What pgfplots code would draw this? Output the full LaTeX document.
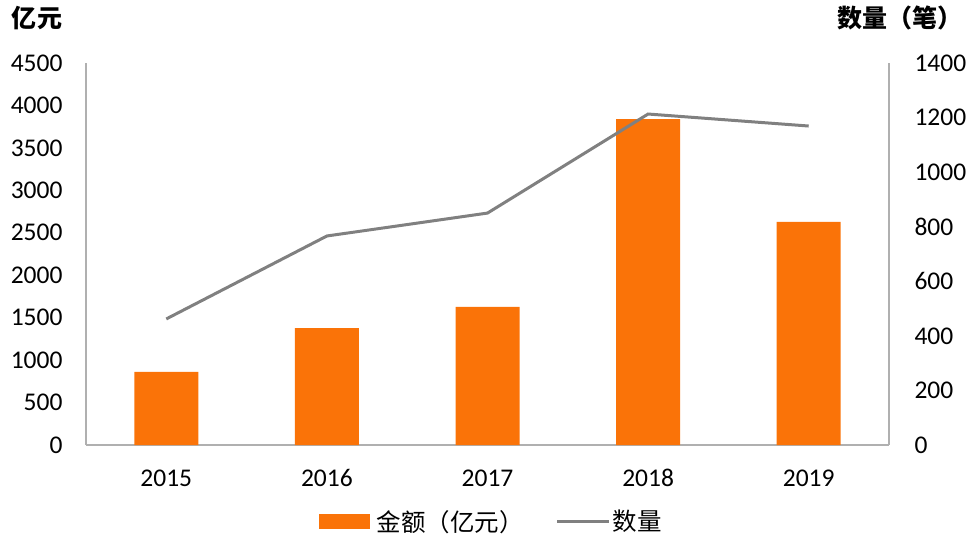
\documentclass[border=0pt]{standalone}
\usepackage{pgfplots}
\pgfplotsset{compat=1.18}
\usepackage{fontspec}
\setmainfont{Carlito}
\newfontfamily\cjk{Noto Sans CJK SC}
\definecolor{barorange}{HTML}{FA7308}
\definecolor{linegray}{HTML}{808080}
\definecolor{axgray}{HTML}{B0B0B0}
\begin{document}
\begin{tikzpicture}
\path[use as bounding box] (0,0) rectangle (973pt,546pt);
\begin{axis}[
  at={(86pt,101pt)}, anchor=south west,
  scale only axis, width=803pt, height=382pt,
  xmin=-0.5, xmax=4.5, ymin=0, ymax=4500,
  xtick={0,1,2,3,4}, xticklabels={2015,2016,2017,2018,2019},
  ytick={0,500,...,4500},
  axis x line*=bottom, axis y line*=left,
  axis line style={axgray, line width=1.5pt, -},
  major tick length=0pt,
  tick label style={font=\fontsize{25.5}{28}\selectfont, black},
  yticklabel style={xshift=-20pt},
  xticklabel style={yshift=-21pt},
  /pgf/number format/assume math mode=true,
  /pgf/number format/1000 sep={},
  ybar, bar width=64pt,
]
\addplot[fill=barorange, draw=none] coordinates {(0,860) (1,1378) (2,1626) (3,3840) (4,2627)};
\end{axis}
\begin{axis}[
  at={(86pt,101pt)}, anchor=south west,
  scale only axis, width=803pt, height=382pt,
  xmin=-0.5, xmax=4.5, ymin=0, ymax=1400,
  ytick={0,200,...,1400},
  hide x axis,
  axis y line*=right,
  axis line style={axgray, line width=1.5pt, -},
  major tick length=0pt,
  tick label style={font=\fontsize{25.5}{28}\selectfont, black},
  yticklabel style={xshift=22pt},
  /pgf/number format/assume math mode=true,
  /pgf/number format/1000 sep={},
  legend style={at={(0.505,-0.2)}, anchor=center, draw=none, font=\cjk\fontsize{24.5}{28}\selectfont, legend columns=2, /tikz/every even column/.append style={column sep=30pt}},
]
\addlegendimage{legend image code/.code={\fill[barorange] (0pt,-7pt) rectangle (50pt,7pt);}}
\addlegendentry{\hspace{5pt}金额（亿元）}
\addplot[linegray, line width=3pt, legend image code/.code={\draw[linegray, line width=3pt] (0pt,0pt) -- (52pt,0pt);}] coordinates {(0,462) (1,766) (2,850) (3,1213) (4,1169)};
\addlegendentry{数量}
\end{axis}
\node[font=\cjk\bfseries\fontsize{25}{28}\selectfont] at (37pt,528pt) {亿元};
\node[font=\cjk\bfseries\fontsize{25}{28}\selectfont] at (900pt,528pt) {数量（笔）};
\end{tikzpicture}
\end{document}
